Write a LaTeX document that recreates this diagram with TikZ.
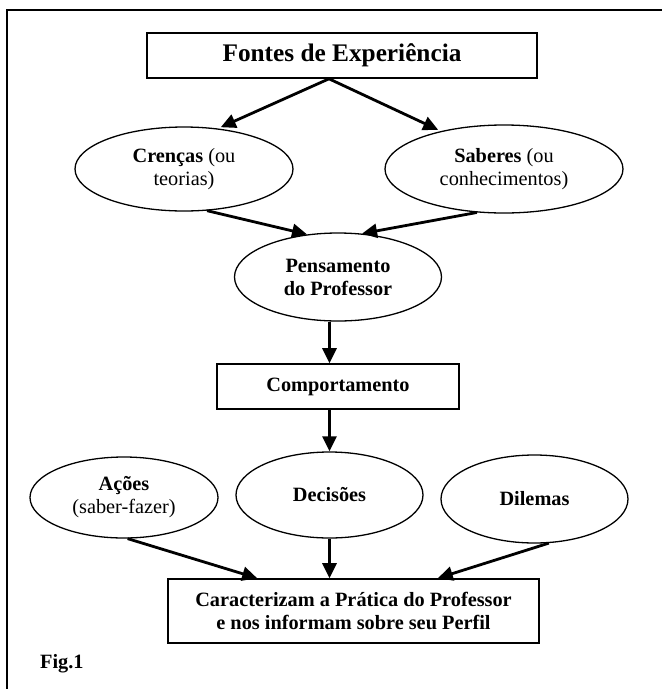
\documentclass[tikz,border=0pt]{standalone}
\usepackage{fontspec}
\setmainfont{Liberation Serif}
\usetikzlibrary{shapes.geometric,arrows.meta,calc}
\begin{document}
\begin{tikzpicture}[x=1pt,y=-1pt,
  boxnode/.style={draw,line width=1.6pt,rectangle,inner sep=0pt,align=center,font=\fontsize{20.3}{23}\selectfont\bfseries},
  ellnode/.style={draw,line width=1.3pt,ellipse,inner sep=0pt,align=center,font=\fontsize{20.3}{23.5}\selectfont},
  arr/.style={line width=2.8pt,-{Triangle[length=15pt,width=14pt]}}
]
\useasboundingbox (0,0) rectangle (662,689);
\draw[line width=2pt] (7,689) -- (7,10) -- (662,10);

\node[boxnode,minimum width=390,minimum height=45,font=\fontsize{25.3}{30}\selectfont\bfseries] (fontes) at (342,55.5) {Fontes de Experiência};
\node[ellnode,minimum width=218,minimum height=84] (crencas) at (184,169) {\textbf{Crenças} (ou\\teorias)};
\node[ellnode,minimum width=238,minimum height=88] (saberes) at (504,169) {\textbf{Saberes} (ou\\conhecimentos)};
\node[ellnode,minimum width=207,minimum height=88,font=\fontsize{20.3}{23}\selectfont\bfseries] (pens) at (338,277) {Pensamento\\do Professor};
\node[boxnode,minimum width=242,minimum height=45] (comp) at (338,386.5) {Comportamento};
\node[ellnode,minimum width=188,minimum height=81,font=\fontsize{20.3}{23}\selectfont] (acoes) at (124,497.5) {\textbf{Ações}\\(saber-fazer)};
\node[ellnode,minimum width=187,minimum height=86,font=\fontsize{20.3}{23}\selectfont\bfseries] (decisoes) at (329.5,495) {Decisões};
\node[ellnode,minimum width=187,minimum height=88,font=\fontsize{20.3}{23}\selectfont\bfseries] (dilemas) at (534.5,499) {Dilemas};
\node[boxnode,minimum width=371,minimum height=64,font=\fontsize{20.3}{22.5}\selectfont\bfseries] (final) at (353.5,611) {Caracterizam a Prática do Professor\\e nos informam sobre seu Perfil};
\node[anchor=base west,inner sep=0pt,font=\fontsize{20.3}{23}\selectfont\bfseries] (fig) at (40,668) {Fig.1};

\coordinate (apex) at ($(fontes.south)+(-13,0)$);
\draw[arr,shorten >=3pt] (apex) -- (crencas.50);
\draw[arr,shorten >=3pt] (apex) -- (saberes.149);
\draw[arr] (crencas.-61) -- (pens.126);
\draw[arr] (saberes.-122) -- (pens.61);
\draw[arr] (pens.south -| decisoes.north) -- (comp.north -| decisoes.north);
\draw[arr] (comp.south -| decisoes.north) -- (decisoes.north);
\draw[arr] (acoes.-85) -- ($(final.north west)+(90,0)$);
\draw[arr] (decisoes.south) -- (decisoes.south |- final.north);
\draw[arr] (dilemas.-72) -- ($(final.north east)+(-102,0)$);
\end{tikzpicture}
\end{document}
